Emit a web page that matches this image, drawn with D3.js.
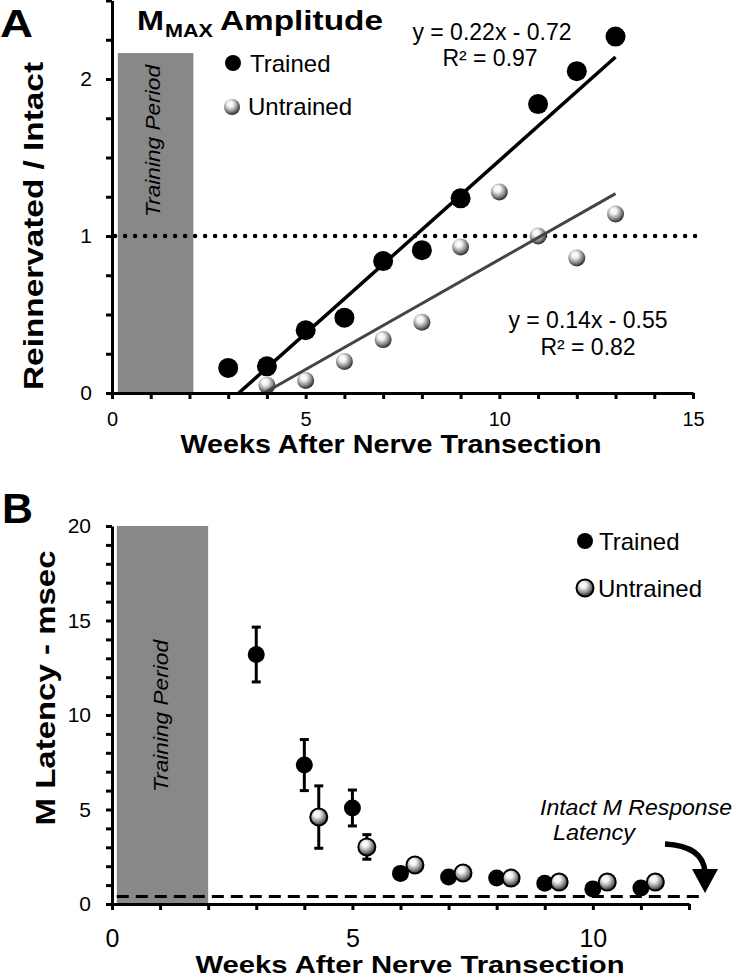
<!DOCTYPE html>
<html><head><meta charset="utf-8">
<script src="https://cdn.jsdelivr.net/npm/d3@7"></script>
<style>body{margin:0;background:#fff}svg{display:block}text{font-family:"Liberation Sans",Arial,sans-serif}</style>
</head><body>
<script>
// ---- Panel A data ----
const trainedWeeksA = [3,4,5,6,7,8,9,11,12,13];
const trainedA = [0.16,0.17,0.40,0.48,0.84,0.91,1.24,1.84,2.05,2.27];
const untrainedWeeksA = [4,5,6,7,8,9,10,11,12,13];
const untrainedA = [0.05,0.08,0.20,0.34,0.45,0.93,1.28,1.00,0.86,1.14];
const fitSlopes = [0.22, 0.14];
const fitIntercepts = [-0.72, -0.55];
const fitEnds = [13, 13];
const fitLabels = [["y = 0.22x - 0.72","R² = 0.97"],["y = 0.14x - 0.55","R² = 0.82"]];
const xTicksA = [0,5,10,15];
const yTicksA = [0,1,2];
const refLevelA = 1;
const trainingA = [0.15, 2.1, 2.165];
// ---- Panel B data ----
const trainedWeeksB = [3,4,5,6,7,8,9,10,11];
const trainedB = [13.2,7.35,5.08,1.62,1.43,1.37,1.1,0.8,0.85];
const trainedErrB = [1.45,1.35,0.95,0,0,0,0,0,0];
const untrainedWeeksB = [4.3,5.3,6.3,7.3,8.3,9.3,10.3,11.3];
const untrainedB = [4.6,3.02,2.06,1.64,1.37,1.16,1.16,1.16];
const untrainedErrB = [1.65,0.65,0,0,0,0,0,0];
const xTicksB = [0,5,10];
const yTicksB = [0,5,10,15,20];
const intactLatency = 0.4;
const trainingB = [0.1, 2.0, 20];

const W = 733, H = 979;
const svg = d3.select("body").append("svg").attr("width", W).attr("height", H);
const defs = svg.append("defs");
function sphere(id){
  const g = defs.append("radialGradient").attr("id", id)
    .attr("cx", 0.42).attr("cy", 0.38).attr("r", 0.62).attr("fx", 0.38).attr("fy", 0.3);
  [[0,"#ffffff"],[0.3,"#f2f2f2"],[0.68,"#8e8e8e"],[1,"#2a2a2a"]].forEach(([o,c]) =>
    g.append("stop").attr("offset", o).attr("stop-color", c));
}
sphere("sph");

function txt(x, y, s, o = {}) {
  const t = svg.append("text").attr("x", x).attr("y", y).text(s)
    .attr("font-size", o.size || 20)
    .attr("font-weight", o.weight || "normal")
    .attr("font-style", o.style || "normal")
    .attr("text-anchor", o.anchor || "start")
    .attr("fill", "#000");
  if (o.len) t.attr("textLength", o.len).attr("lengthAdjust", "spacingAndGlyphs");
  if (o.rot) t.attr("transform", `rotate(-90,${x},${y})`);
  return t;
}

// ================= Panel A =================
const xA = d3.scaleLinear([0,15],[112,693]);
const yA = d3.scaleLinear([0,2.5],[393,0.5]);

svg.append("rect").attr("x", xA(trainingA[0])).attr("y", yA(trainingA[2]))
  .attr("width", xA(trainingA[1]) - xA(trainingA[0])).attr("height", yA(0) - yA(trainingA[2]))
  .attr("fill", "#888");
txt(160, 141, "Training Period", {size: 21, style: "italic", anchor: "middle", rot: true, len: 152});

// reference dotted line
svg.append("line").attr("x1", xA(0.08)).attr("x2", xA(15.1)).attr("y1", yA(refLevelA)).attr("y2", yA(refLevelA))
  .attr("stroke", "#000").attr("stroke-width", 4.5).attr("stroke-linecap", "round").attr("stroke-dasharray", "0,10");

// markers
svg.append("g").selectAll("circle").data(untrainedWeeksA).join("circle")
  .attr("cx", d => xA(d)).attr("cy", (d,i) => yA(untrainedA[i])).attr("r", 8.5).attr("fill", "url(#sph)");
svg.append("g").selectAll("circle").data(trainedWeeksA).join("circle")
  .attr("cx", d => xA(d)).attr("cy", (d,i) => yA(trainedA[i])).attr("r", 10).attr("fill", "#000");

// fit lines
const fitColors = ["#000", "#444"];
const fitWidths = [3.5, 3];
fitSlopes.forEach((m, i) => {
  const b = fitIntercepts[i];
  const x0 = -b / m, x1 = fitEnds[i];
  svg.append("line").attr("x1", xA(x0)).attr("y1", yA(0)).attr("x2", xA(x1)).attr("y2", yA(m * x1 + b))
    .attr("stroke", fitColors[i]).attr("stroke-width", fitWidths[i]);
});
txt(492, 40, fitLabels[0][0], {size: 23, anchor: "middle"});
txt(490, 66, fitLabels[0][1], {size: 23, anchor: "middle"});
txt(588, 328, fitLabels[1][0], {size: 23, anchor: "middle"});
txt(588, 355, fitLabels[1][1], {size: 23, anchor: "middle"});

// axes A
function styleAxis(g, fs) {
  g.select(".domain").attr("stroke-width", 3);
  g.selectAll(".tick line").attr("stroke-width", 3);
  g.selectAll(".tick text").attr("font-size", fs).attr("font-family", '"Liberation Sans",Arial,sans-serif').attr("fill", "#000");
}
const gxA = svg.append("g").attr("transform", `translate(0,${yA(0)})`)
  .call(d3.axisBottom(xA).tickValues(d3.range(0,16,1)).tickSize(6).tickSizeOuter(0).tickPadding(13)
    .tickFormat(d => xTicksA.includes(d) ? d : ""));
styleAxis(gxA, 20);
const gyA = svg.append("g").attr("transform", `translate(${xA(0)},0)`)
  .call(d3.axisLeft(yA).tickValues(d3.range(0,2.51,0.25)).tickSize(6).tickSizeOuter(0).tickPadding(14)
    .tickFormat(d => yTicksA.includes(d) ? d : ""));
styleAxis(gyA, 21);

txt(391, 453, "Weeks After Nerve Transection", {size: 25, weight: "bold", anchor: "middle", len: 421});
txt(43, 226, "Reinnervated / Intact", {size: 28, weight: "bold", anchor: "middle", rot: true, len: 328});
txt(0, 37, "A", {size: 38, weight: "bold", len: 33});

// title
txt(137, 30, "M", {size: 28, weight: "bold", len: 27});
txt(165, 37, "MAX", {size: 19, weight: "bold", len: 48});
txt(220, 30, "Amplitude", {size: 28, weight: "bold", len: 163});

// legend A
svg.append("circle").attr("cx", 233).attr("cy", 63).attr("r", 8).attr("fill", "#000");
txt(250, 72, "Trained", {size: 24});
svg.append("circle").attr("cx", 232).attr("cy", 107).attr("r", 8).attr("fill", "url(#sph)");
txt(248, 115, "Untrained", {size: 24});

// ================= Panel B =================
const xB = d3.scaleLinear([0,12],[112,689]);
const yB = d3.scaleLinear([0,20],[904,526]);

svg.append("rect").attr("x", xB(trainingB[0])).attr("y", yB(trainingB[2]))
  .attr("width", xB(trainingB[1]) - xB(trainingB[0])).attr("height", yB(0) - yB(trainingB[2]))
  .attr("fill", "#888");
txt(168, 716, "Training Period", {size: 21, style: "italic", anchor: "middle", rot: true, len: 152});

svg.append("line").attr("x1", xB(0.1)).attr("x2", xB(12.25)).attr("y1", yB(intactLatency)).attr("y2", yB(intactLatency))
  .attr("stroke", "#000").attr("stroke-width", 3).attr("stroke-dasharray", "12,7");

function errBars(weeks, vals, errs) {
  const g = svg.append("g").attr("stroke", "#000").attr("stroke-width", 3);
  weeks.forEach((w, i) => {
    if (!errs[i]) return;
    const x = xB(w), y0 = yB(vals[i] - errs[i]), y1 = yB(vals[i] + errs[i]);
    g.append("line").attr("x1", x).attr("x2", x).attr("y1", y0).attr("y2", y1);
    g.append("line").attr("x1", x - 4.5).attr("x2", x + 4.5).attr("y1", y0).attr("y2", y0);
    g.append("line").attr("x1", x - 4.5).attr("x2", x + 4.5).attr("y1", y1).attr("y2", y1);
  });
}
errBars(trainedWeeksB, trainedB, trainedErrB);
errBars(untrainedWeeksB, untrainedB, untrainedErrB);

svg.append("g").selectAll("circle").data(trainedWeeksB).join("circle")
  .attr("cx", d => xB(d)).attr("cy", (d,i) => yB(trainedB[i])).attr("r", 8.5).attr("fill", "#000");
svg.append("g").selectAll("circle").data(untrainedWeeksB).join("circle")
  .attr("cx", d => xB(d)).attr("cy", (d,i) => yB(untrainedB[i])).attr("r", 8.5)
  .attr("fill", "url(#sph)").attr("stroke", "#000").attr("stroke-width", 2);

const gxB = svg.append("g").attr("transform", `translate(0,${yB(0)})`)
  .call(d3.axisBottom(xB).tickValues(d3.range(0,13,1)).tickSize(6).tickSizeOuter(0).tickPadding(19)
    .tickFormat(d => xTicksB.includes(d) ? d : ""));
styleAxis(gxB, 25);
const gyB = svg.append("g").attr("transform", `translate(${xB(0)},0)`)
  .call(d3.axisLeft(yB).tickValues(d3.range(0,21,1)).tickSize(6).tickSizeOuter(0).tickPadding(15)
    .tickFormat(d => yTicksB.includes(d) ? d : ""));
styleAxis(gyB, 21);

txt(410, 973, "Weeks After Nerve Transection", {size: 24, weight: "bold", anchor: "middle", len: 429});
txt(55, 688, "M Latency - msec", {size: 28, weight: "bold", anchor: "middle", rot: true, len: 275});
txt(2, 523, "B", {size: 42, weight: "bold", len: 31});

// legend B
svg.append("circle").attr("cx", 585).attr("cy", 541).attr("r", 8).attr("fill", "#000");
txt(599, 550, "Trained", {size: 24});
svg.append("circle").attr("cx", 585).attr("cy", 588).attr("r", 8.5).attr("fill", "url(#sph)").attr("stroke", "#000").attr("stroke-width", 2);
txt(598, 597, "Untrained", {size: 24});

// annotation
txt(540, 815, "Intact M Response", {size: 22, style: "italic", len: 192});
txt(553, 840, "Latency", {size: 22, style: "italic", len: 82});
svg.append("path").attr("d", "M665,844 Q703,846 705,872").attr("fill", "none").attr("stroke", "#000").attr("stroke-width", 5.5);
svg.append("path").attr("d", "M692,869 L718,869 L705,893 Z").attr("fill", "#000");
</script>
</body></html>
